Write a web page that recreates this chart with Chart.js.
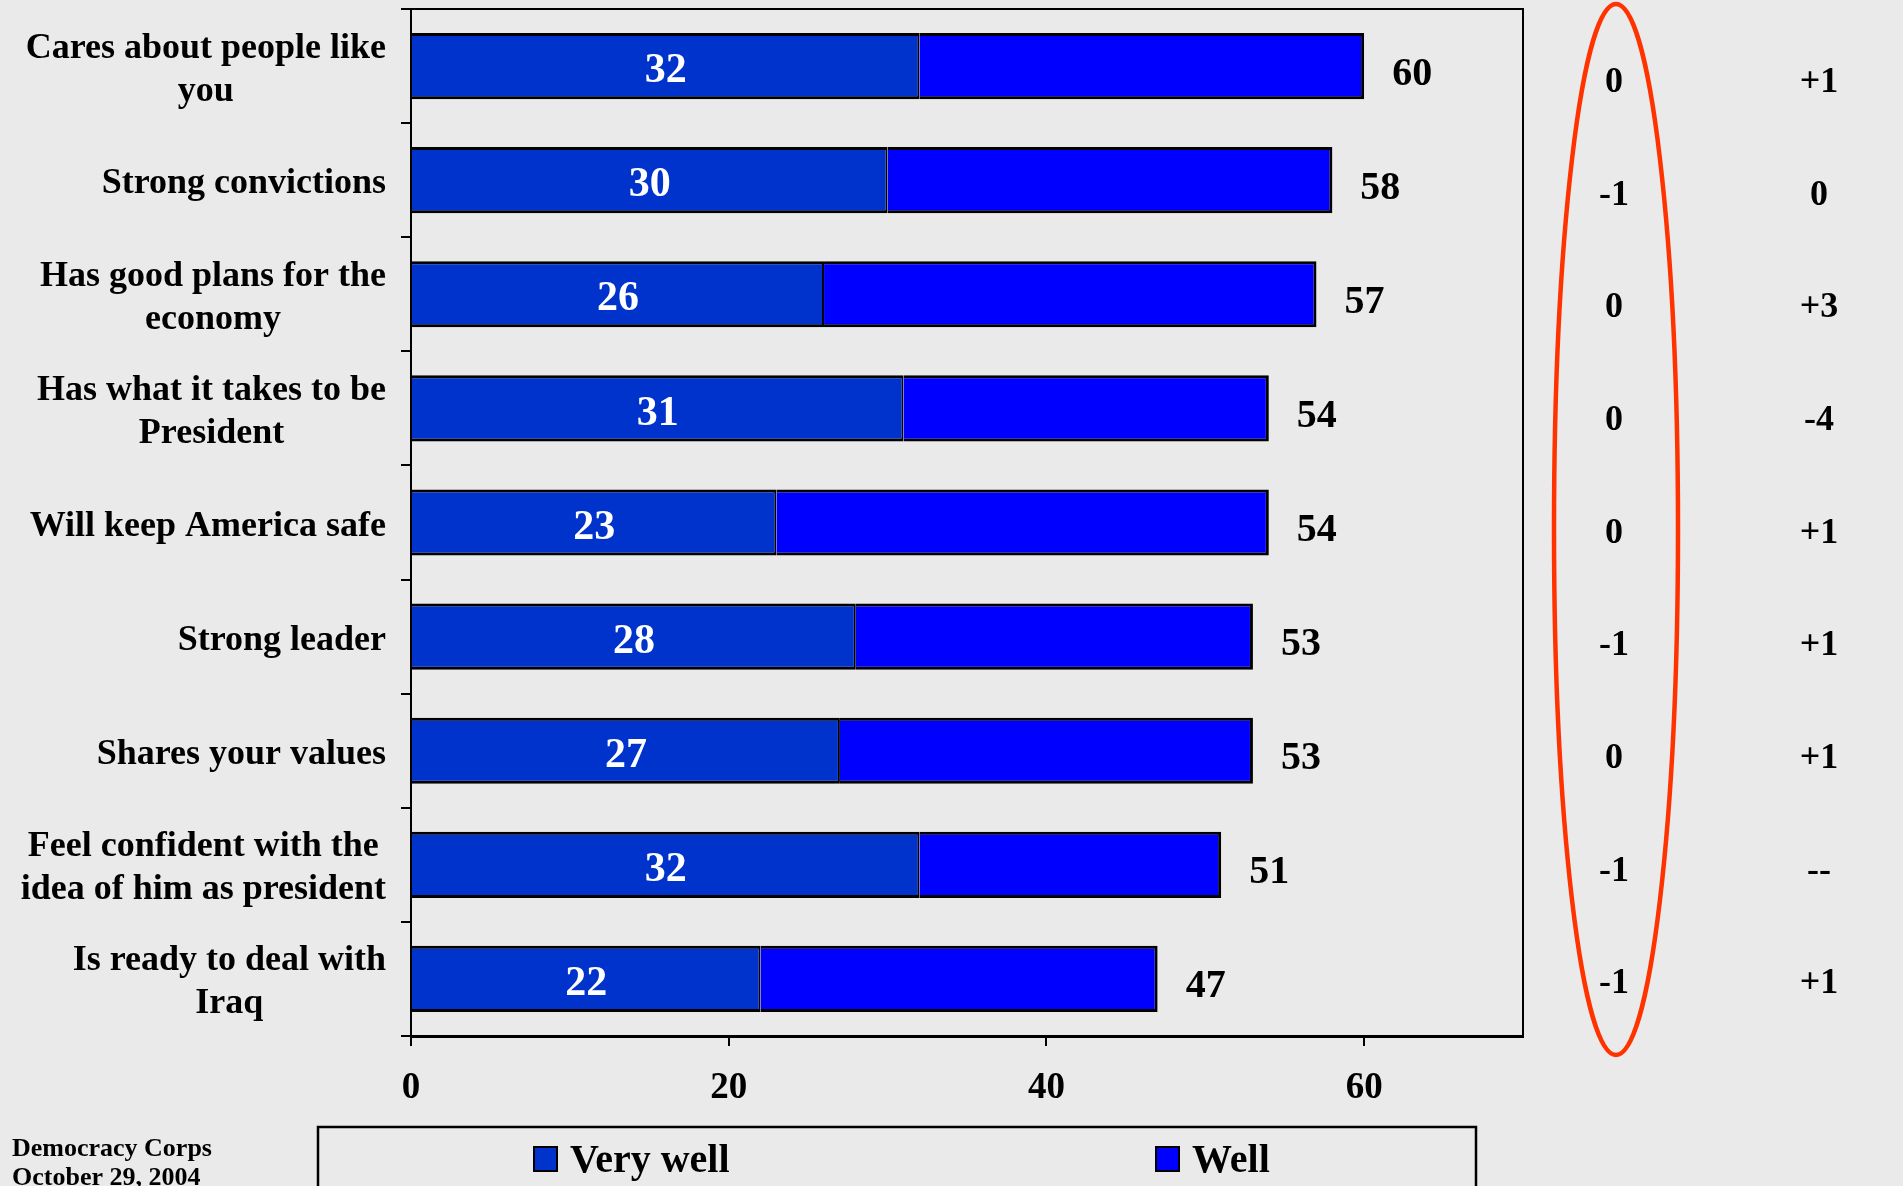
<!DOCTYPE html>
<html>
<head>
<meta charset="utf-8">
<script src="https://cdn.jsdelivr.net/npm/chart.js@4.4.0/dist/chart.umd.min.js"></script>
<style>
  html, body { margin: 0; padding: 0; background: #eaeaea; overflow: hidden; }
  canvas { display: block; }
</style>
</head>
<body>
<canvas id="chart" width="1903" height="1186"></canvas>
<script>
// Data
const categories = [
  ['Cares about people like', 'you'],
  ['Strong convictions'],
  ['Has good plans for the', 'economy'],
  ['Has what it takes to be', 'President'],
  ['Will keep America safe'],
  ['Strong leader'],
  ['Shares your values'],
  ['Feel confident with the', 'idea of him as president'],
  ['Is ready to deal with', 'Iraq']
];
const veryWell = [32, 30, 26, 31, 23, 28, 27, 32, 22];
const well = [28, 28, 31, 23, 31, 25, 26, 19, 25];
const totals = [60, 58, 57, 54, 54, 53, 53, 51, 47];
const changeA = ['0', '-1', '0', '0', '0', '-1', '0', '-1', '-1'];
const changeB = ['+1', '0', '+3', '-4', '+1', '+1', '+1', '--', '+1'];
const xTicks = [0, 20, 40, 60];
const footer = ['Democracy Corps', 'October 29, 2004'];

const FONT = "'Liberation Serif', 'Times New Roman', serif";

function font(size) {
  return 'bold ' + size + 'px ' + FONT;
}

// Category labels, bar value labels, side columns, frame, legend and footer
const extras = {
  id: 'extras',
  afterDatasetsDraw(chart) {
    const ctx = chart.ctx;
    const area = chart.chartArea;
    const ys = chart.scales.y;
    ctx.save();

    // frame: top and right
    ctx.strokeStyle = '#000';
    ctx.lineWidth = 2;
    ctx.beginPath();
    ctx.moveTo(area.left, area.top);
    ctx.lineTo(area.right, area.top);
    ctx.lineTo(area.right, area.bottom);
    ctx.stroke();

    // category labels: block right aligned, lines centred
    ctx.font = font(36);
    ctx.fillStyle = '#000';
    ctx.textAlign = 'center';
    ctx.textBaseline = 'alphabetic';
    const lineH = 43;
    categories.forEach((lines, i) => {
      const yc = ys.getPixelForValue(i);
      const w = Math.max(...lines.map(l => ctx.measureText(l).width));
      const cx = area.left - 25 - w / 2;
      lines.forEach((l, j) => {
        const y = yc + (j - (lines.length - 1) / 2) * lineH + 13;
        ctx.fillText(l, cx, y);
      });
    });

    // inner labels (very well)
    const m0 = chart.getDatasetMeta(0);
    ctx.font = font(42);
    ctx.fillStyle = '#fff';
    m0.data.forEach((el, i) => {
      ctx.fillText(String(veryWell[i]), (el.base + el.x) / 2, el.y + 2 + 42 * 0.338);
    });

    // totals
    const m1 = chart.getDatasetMeta(1);
    ctx.font = font(40);
    ctx.fillStyle = '#000';
    ctx.textAlign = 'left';
    m1.data.forEach((el, i) => {
      ctx.fillText(String(totals[i]), el.x + 28, el.y + 5 + 40 * 0.338);
    });

    // change columns
    const first = ys.getPixelForValue(0);
    ctx.font = font(36);
    ctx.textAlign = 'center';
    categories.forEach((c, i) => {
      const y = first + 14 + (ys.getPixelForValue(i) - first) * 0.987 + 36 * 0.338;
      ctx.fillText(changeA[i], area.right + 91, y);
      ctx.fillText(changeB[i], area.right + 296, y);
    });

    // red ellipse
    ctx.strokeStyle = '#ff3300';
    ctx.lineWidth = 4.5;
    ctx.beginPath();
    ctx.ellipse(area.right + 93, 529.5, 62, 525.5, 0, 0, Math.PI * 2);
    ctx.stroke();

    // legend box
    ctx.strokeStyle = '#000';
    ctx.lineWidth = 2.5;
    ctx.strokeRect(318, 1127, 1158, 100);
    const legendX = [534, 1156];
    chart.data.datasets.forEach((ds, i) => {
      const x = legendX[i];
      ctx.fillStyle = ds.backgroundColor;
      ctx.fillRect(x, 1147, 23, 24);
      ctx.lineWidth = 2;
      ctx.strokeStyle = '#000';
      ctx.strokeRect(x, 1147, 23, 24);
      ctx.fillStyle = '#000';
      ctx.font = font(40);
      ctx.textAlign = 'left';
      ctx.fillText(ds.label, x + 36, 1172);
    });

    // footer
    ctx.font = font(26);
    ctx.fillText(footer[0], 12, 1156);
    ctx.fillText(footer[1], 12, 1185);

    ctx.restore();
  }
};

new Chart(document.getElementById('chart'), {
  type: 'bar',
  data: {
    labels: categories,
    datasets: [
      {
        label: 'Very well',
        data: veryWell,
        backgroundColor: '#0033cc',
        borderColor: '#000',
        borderWidth: { top: 3, bottom: 3, left: 0, right: 2 },
        borderSkipped: false
      },
      {
        label: 'Well',
        data: well,
        backgroundColor: '#0000ff',
        borderColor: '#000',
        borderWidth: { top: 3, bottom: 3, left: 0, right: 3 },
        borderSkipped: false
      }
    ]
  },
  options: {
    indexAxis: 'y',
    responsive: false,
    animation: false,
    devicePixelRatio: 1,
    categoryPercentage: 1,
    barPercentage: 0.58,
    layout: { padding: { top: 9, right: 380, left: 0, bottom: 0 } },
    plugins: {
      legend: { display: false },
      tooltip: { enabled: false }
    },
    scales: {
      x: {
        stacked: true,
        min: 0,
        max: 70,
        afterBuildTicks: s => { s.ticks = xTicks.map(v => ({ value: v })); },
        afterFit: s => { s.height = 150; },
        grid: { drawOnChartArea: false, tickLength: 10, color: '#000', lineWidth: 2 },
        border: { color: '#000', width: 3 },
        ticks: { color: '#000', font: { family: FONT, weight: 'bold', size: 37 }, padding: 20 }
      },
      y: {
        stacked: true,
        offset: true,
        afterFit: s => { s.width = 411; s.paddingTop = 0; s.paddingBottom = 0; },
        grid: { offset: true, drawOnChartArea: false, tickLength: 10, color: '#000', lineWidth: 2 },
        border: { color: '#000', width: 2 },
        ticks: { display: false }
      }
    }
  },
  plugins: [extras]
});
</script>
</body>
</html>
